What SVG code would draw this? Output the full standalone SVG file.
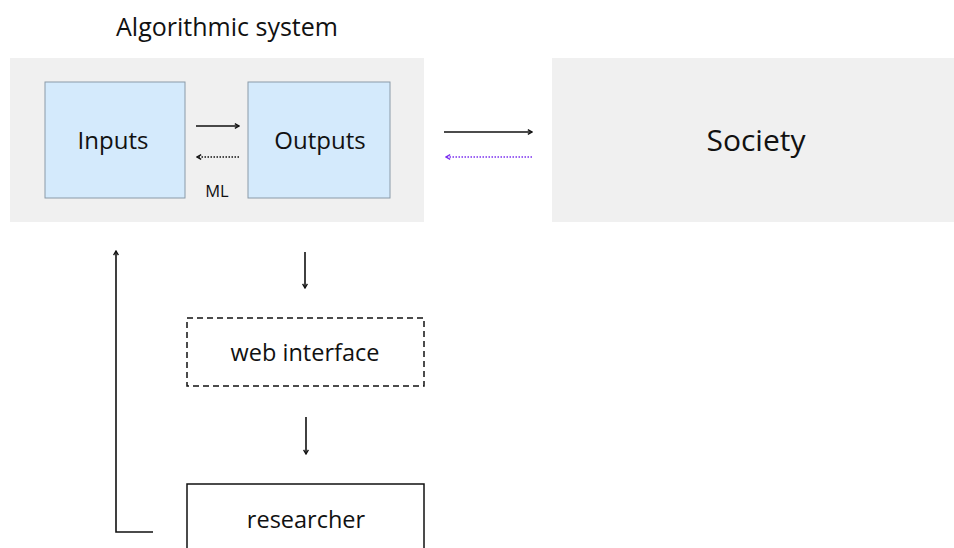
<svg xmlns="http://www.w3.org/2000/svg" width="954" height="548" viewBox="0 0 954 548">
<style>
text{font-family:"Open Sans","Noto Sans","DejaVu Sans",sans-serif;fill:#111;text-anchor:middle;dominant-baseline:central}
.panel{fill:#f0f0f0}
.blue{fill:#d4eafc;stroke:#8a9aa8;stroke-width:1}
.ln{fill:none;stroke:#111;stroke-width:1.6}
.dot{fill:none;stroke:#111;stroke-width:1.6;stroke-dasharray:1.5 1.5}
.pdot{fill:none;stroke:#7b2ff0;stroke-width:1.6;stroke-dasharray:1.5 1.5}
</style>
<defs>
<marker id="ah" viewBox="0 0 10 10" refX="8" refY="5" markerWidth="6" markerHeight="6" orient="auto-start-reverse" markerUnits="userSpaceOnUse"><path d="M1,1 L8,5 L1,9" fill="none" stroke="#111" stroke-width="2.2"/></marker>
<marker id="ahp" viewBox="0 0 10 10" refX="8" refY="5" markerWidth="6" markerHeight="6" orient="auto-start-reverse" markerUnits="userSpaceOnUse"><path d="M1,1 L8,5 L1,9" fill="none" stroke="#7b2ff0" stroke-width="2.2"/></marker>
</defs>
<g id="algorithmic-system">
<rect class="panel" x="10" y="58" width="414" height="164"/>
<text x="227" y="26" font-size="25">Algorithmic system</text>
</g>
<g id="inputs">
<rect class="blue" x="45" y="82" width="140" height="116"/>
<text x="113" y="139" font-size="24">Inputs</text>
</g>
<g id="outputs">
<rect class="blue" x="248" y="82" width="142" height="116"/>
<text x="320" y="139" font-size="24">Outputs</text>
</g>
<g id="society">
<rect class="panel" x="552" y="58" width="402" height="164"/>
<text x="756" y="139" font-size="30">Society</text>
</g>
<g id="web-interface">
<rect x="187" y="318" width="237" height="68" fill="none" stroke="#111" stroke-width="1.5" stroke-dasharray="6 4"/>
<text x="305" y="352" font-size="23.5">web interface</text>
</g>
<g id="researcher">
<rect x="187" y="484" width="237" height="70" fill="none" stroke="#111" stroke-width="1.5"/>
<text x="306" y="519" font-size="23.5">researcher</text>
</g>
<g id="connectors">
<line class="ln" x1="196" y1="126" x2="239" y2="126" marker-end="url(#ah)"/>
<line class="dot" x1="239" y1="157" x2="197" y2="157" marker-end="url(#ah)"/>
<text x="217" y="190" font-size="16.5">ML</text>
<line class="ln" x1="444" y1="132" x2="532" y2="132" marker-end="url(#ah)"/>
<line class="pdot" x1="532" y1="157" x2="446" y2="157" marker-end="url(#ahp)"/>
<line class="ln" x1="305" y1="252" x2="305" y2="288" marker-end="url(#ah)"/>
<line class="ln" x1="306" y1="417" x2="306" y2="454" marker-end="url(#ah)"/>
<polyline class="ln" points="153,532 116,532 116,251" marker-end="url(#ah)"/>
</g>
</svg>
